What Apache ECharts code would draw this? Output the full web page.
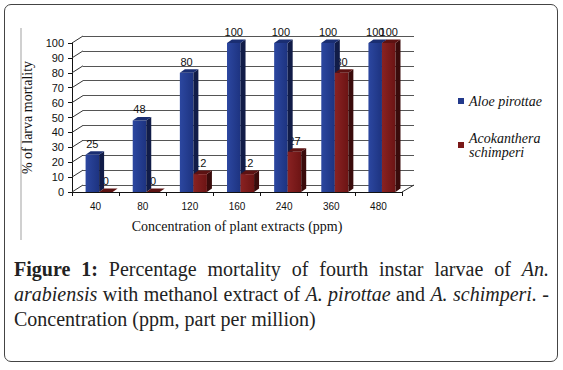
<!DOCTYPE html>
<html>
<head>
<meta charset="utf-8">
<script src="https://cdn.jsdelivr.net/npm/echarts@6/dist/echarts.min.js"></script>
<style>
body{margin:0;width:563px;height:370px;background:#fff;position:relative;overflow:hidden;}
.frame{position:absolute;left:4px;top:4px;width:554px;height:358px;box-sizing:border-box;border:1.5px solid #444;border-radius:7px;}
#chart{position:absolute;left:0;top:0;width:563px;height:250px;}
.caption{position:absolute;left:14px;top:257px;width:535px;font-family:"Liberation Serif",serif;font-size:20px;line-height:25px;color:#222;}
.caption .j{text-align:justify;text-align-last:justify;}
.caption b{font-weight:bold;}
</style>
</head>
<body>
<div class="frame"></div>
<div id="chart"></div>
<div class="caption">
	<div class="j"><b>Figure 1:</b> Percentage mortality of fourth instar larvae of <i>An.</i></div>
	<div class="j"><i>arabiensis</i> with methanol extract of <i>A. pirottae</i> and <i>A. schimperi.</i> -</div>
	<div>Concentration (ppm, part per million)</div>
</div>
<script>
// concentrations (ppm)
var categories = ['40','80','120','160','240','360','480']
// % mortality
var aloeValues = [25,48,80,100,100,100,100]
var acoValues = [0,0,12,12,27,80,100]
var yTicks = [0,10,20,30,40,50,60,70,80,90,100]

var SERIF = '"Liberation Serif", "Times New Roman", serif'
var SANS = '"Liberation Sans", Arial, sans-serif'
var WALL_DX = 11, WALL_DY = 7 // depth of the back wall
var BAR_DX = 5, BAR_DY = 3.5 // depth of the bars
var BAR_W = 0.287

function bar(offset, front, side, top){
	return function(params, api){
		var idx = api.value(0), v = api.value(1)
		var base = api.coord([idx, 0]), head = api.coord([idx, v])
		var bw = api.size([1, 0])[0]
		var x0 = base[0] + offset*bw, w = BAR_W*bw
		var y0 = head[1], y1 = base[1]
		return {
			type: 'group',
			children: [
				{type:'rect', shape:{x:x0, y:y0, width:w, height:y1-y0}, style:{fill:front}},
				{type:'polygon', shape:{points:[[x0+w,y0],[x0+w+BAR_DX,y0-BAR_DY],[x0+w+BAR_DX,y1-BAR_DY],[x0+w,y1]]}, style:{fill:side}},
				{type:'polygon', shape:{points:[[x0,y0],[x0+BAR_DX,y0-BAR_DY],[x0+w+BAR_DX,y0-BAR_DY],[x0+w,y0]]}, style:{fill:top}}
			]
		}
	}
}

function label(offset){
	return function(params, api){
		var idx = api.value(0), v = api.value(1)
		var head = api.coord([idx, v])
		var bw = api.size([1, 0])[0]
		return {
			type: 'text',
			style: {
				x: head[0] + offset*bw + BAR_W*bw/2, y: head[1] - 11,
				text: String(v), fill: '#111', align: 'center', verticalAlign: 'middle',
				fontSize: 11, fontFamily: SANS
			}
		}
	}
}

function gradient(a, b){
	return new echarts.graphic.LinearGradient(0, 0, 1, 0, [{offset:0, color:a}, {offset:1, color:b}])
}

var option = {
	animation: false,
	graphic: [
		{type:'line', shape:{x1:21, y1:28, x2:21, y2:240}, style:{stroke:'#d0d0d0', lineWidth:2}, silent:true}
	],
	grid: [
		{left:72, top:43, width:330, height:149},
		{left:83, top:36, width:331, height:149}
	],
	legend: [
		{
			data: ['Aloe pirottae'], left: 453, top: 88, orient: 'vertical',
			itemWidth: 6, itemHeight: 6, icon: 'rect', selectedMode: false,
			textStyle: {fontFamily:SERIF, fontStyle:'italic', fontSize:14, lineHeight:16, color:'#111'}
		},
		{
			data: ['Acokanthera schimperi'], left: 453, top: 119, orient: 'vertical',
			itemWidth: 6, itemHeight: 6, icon: 'rect', selectedMode: false,
			formatter: function(){ return 'Acokanthera\nschimperi' },
			textStyle: {fontFamily:SERIF, fontStyle:'italic', fontSize:14, lineHeight:14, padding:[14,0,0,0], color:'#111'}
		}
	],
	xAxis: [
		{
			gridIndex: 0, type: 'category', data: categories,
			axisLine: {lineStyle:{color:'#111', width:1}},
			axisTick: {show:true, length:4, lineStyle:{color:'#111'}},
			axisLabel: {fontSize:10, fontFamily:SANS, color:'#111', margin:9},
			name: 'Concentration of plant extracts (ppm)', nameLocation: 'middle', nameGap: 27,
			nameTextStyle: {fontFamily:SERIF, fontSize:14, color:'#111'}
		},
		{gridIndex: 1, type: 'category', data: categories, show: false}
	],
	yAxis: [
		{
			gridIndex: 0, type: 'value', min: 0, max: 100, interval: 10,
			axisLine: {show:true, lineStyle:{color:'#111', width:1}},
			axisTick: {show:true, length:4, lineStyle:{color:'#111'}},
			axisLabel: {fontSize:11, fontFamily:SANS, color:'#111', margin:8},
			splitLine: {show:false},
			name: '% of larva mortality', nameLocation: 'middle', nameRotate: 90, nameGap: 25,
			nameTextStyle: {fontFamily:SERIF, fontSize:14, color:'#111'}
		},
		{
			gridIndex: 1, type: 'value', min: 0, max: 100, interval: 10,
			axisLine: {show:false}, axisTick: {show:false}, axisLabel: {show:false},
			splitLine: {show:true, lineStyle:{color:'#555', width:1}}
		}
	],
	series: [
		{ // side wall and floor edges
			type: 'custom', xAxisIndex: 0, yAxisIndex: 0, silent: true, z: 1,
			data: yTicks.map(function(v){ return [0, v] }),
			renderItem: function(params, api){
				var cs = params.coordSys
				var y = api.coord([0, api.value(1)])[1]
				var lines = [{type:'line', shape:{x1:cs.x, y1:y, x2:cs.x+WALL_DX, y2:y-WALL_DY}, style:{stroke:'#333', lineWidth:1}}]
				if(api.value(1) === 0)
					lines.push({type:'line', shape:{x1:cs.x+cs.width, y1:y, x2:cs.x+cs.width+WALL_DX+1, y2:y-WALL_DY}, style:{stroke:'#333', lineWidth:1}})
				return {type:'group', children:lines}
			}
		},
		{ // red labels sit behind the blue bars
			name: 'aco-labels', type: 'custom', silent: true, z: 2,
			data: acoValues.map(function(v, i){ return [i, v] }),
			renderItem: label(0.075)
		},
		{
			name: 'Aloe pirottae', type: 'custom', silent: true, z: 3,
			itemStyle: {color:'#22398b'},
			data: aloeValues.map(function(v, i){ return [i, v] }),
			renderItem: bar(-0.212, gradient('#2c47a0', '#1d3380'), '#111c48', '#1a2e72')
		},
		{
			name: 'aloe-labels', type: 'custom', silent: true, z: 3,
			data: aloeValues.map(function(v, i){ return [i, v] }),
			renderItem: label(-0.212)
		},
		{
			name: 'Acokanthera schimperi', type: 'custom', silent: true, z: 4,
			itemStyle: {color:'#7a1818'},
			data: acoValues.map(function(v, i){ return [i, v] }),
			renderItem: bar(0.075, gradient('#8a2222', '#6c1414'), '#3a0b0b', '#5c1212')
		}
	]
}

var myChart = echarts.init(document.getElementById('chart'), null, {renderer:'svg'})
myChart.setOption(option)
</script>
</body>
</html>
